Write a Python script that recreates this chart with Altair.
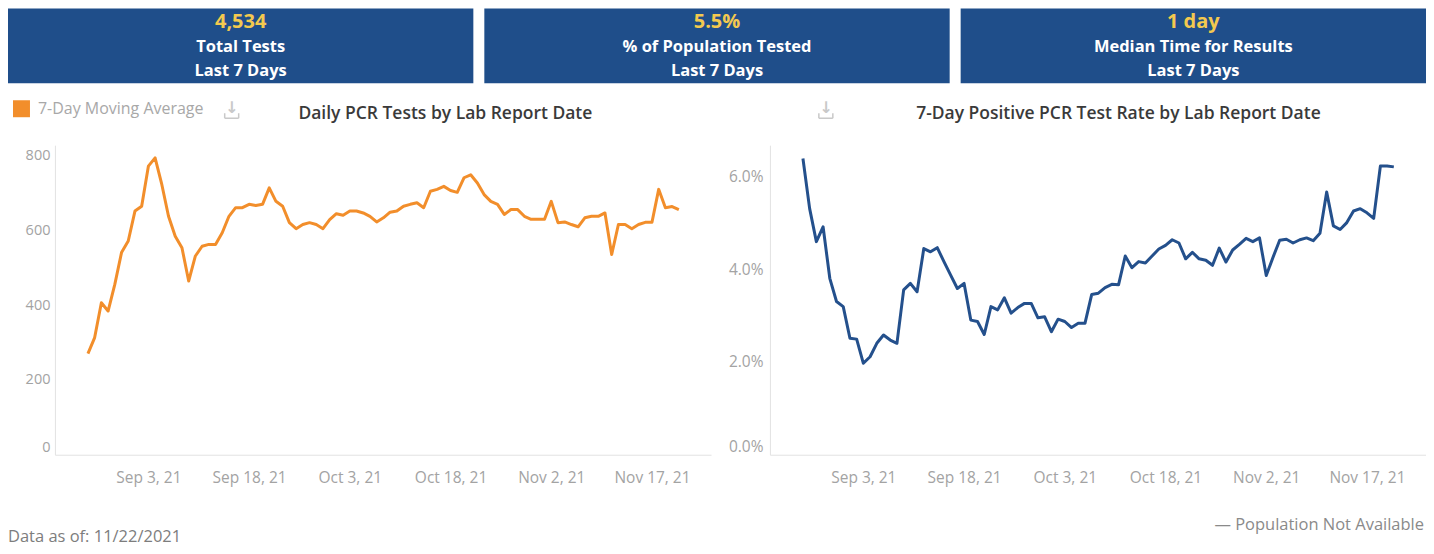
import altair as alt
import pandas as pd

# ---------------- data ----------------
start_date = "2021-08-25"
n_days = 89
daily_tests_7day = [
    270, 313, 406, 384, 455, 540, 571, 651, 664, 771,
    793, 722, 637, 584, 553, 464, 531, 557, 562, 562,
    593, 637, 660, 660, 669, 666, 669, 713, 677, 664,
    620, 604, 615, 620, 615, 604, 628, 644, 640, 651,
    651, 646, 637, 622, 633, 648, 651, 664, 669, 673,
    660, 704, 709, 717, 706, 701, 740, 748, 726, 695,
    677, 669, 642, 655, 655, 637, 629, 629, 629, 677,
    620, 622, 615, 609, 633, 637, 637, 646, 535, 615,
    615, 604, 615, 621, 621, 709, 660, 663, 655,
]
positive_rate_pct = [
    6.38, 5.30, 4.59, 4.91, 3.80, 3.30, 3.19, 2.51, 2.49, 1.97,
    2.11, 2.40, 2.58, 2.47, 2.40, 3.55, 3.69, 3.51, 4.44, 4.37,
    4.46, 4.16, 3.87, 3.58, 3.69, 2.90, 2.87, 2.59, 3.19, 3.12,
    3.38, 3.05, 3.17, 3.26, 3.26, 2.95, 2.97, 2.65, 2.92, 2.87,
    2.74, 2.83, 2.83, 3.45, 3.48, 3.60, 3.67, 3.66, 4.28, 4.03,
    4.16, 4.13, 4.28, 4.43, 4.51, 4.63, 4.56, 4.22, 4.36, 4.22,
    4.19, 4.08, 4.45, 4.15, 4.41, 4.53, 4.66, 4.59, 4.67, 3.86,
    4.25, 4.62, 4.64, 4.56, 4.63, 4.67, 4.61, 4.77, 5.66, 4.93,
    4.85, 5.00, 5.25, 5.30, 5.21, 5.09, 6.22, 6.22, 6.20,
]
kpi_values = ["4,534", "5.5%", "1 day"]
kpi_labels = ["Total Tests", "% of Population Tested", "Median Time for Results"]
kpi_periods = ["Last 7 Days", "Last 7 Days", "Last 7 Days"]
x_tick_dates = [(2021, 9, 3), (2021, 9, 18), (2021, 10, 3),
                (2021, 10, 18), (2021, 11, 2), (2021, 11, 17)]
tests_ticks = [0, 200, 400, 600, 800]
rate_ticks = [0, 2, 4, 6]
left_title = "Daily PCR Tests by Lab Report Date"
right_title = "7-Day Positive PCR Test Rate by Lab Report Date"
legend_label = "7-Day Moving Average"
data_note = "Data as of: 11/22/2021"
pop_note = "— Population Not Available"

dates = pd.date_range(start_date, periods=n_days, freq="D")
df_tests = pd.DataFrame({"date": dates, "tests": daily_tests_7day})
df_rate = pd.DataFrame({"date": dates, "rate": positive_rate_pct})

# ---------------- style / layout ----------------
FONT = "Open Sans"
W, H, GAP = 657, 310, 59
ORANGE = "#f28e2b"
NAVY_LINE = "#24508c"
BANNER = "#1f4e8a"
GOLD = "#f3c94f"
LABEL_GRAY = "#a3a3a3"
AXIS_GRAY = "#e2e2e2"
TITLE_COLOR = "#3a3a3a"
ICON_GRAY = "#c9c9c9"

one = pd.DataFrame({"k": [0]})

x_dom = [alt.DateTime(year=2021, month=8, date=20, hours=2),
         alt.DateTime(year=2021, month=11, date=25, hours=19)]
x_vals = [alt.DateTime(year=y, month=m, date=d) for (y, m, d) in x_tick_dates]


def x_axis():
    return alt.Axis(values=x_vals, format="%b %-d, %y", title=None, ticks=False,
                    grid=False, domainColor=AXIS_GRAY, labelColor=LABEL_GRAY,
                    labelFontSize=15.5, labelPadding=16, labelFlush=False)


def txt(x, y, s, size, color, weight="normal", align="left", font=FONT):
    return alt.Chart(one).mark_text(text=s, fontSize=size, color=color, fontWeight=weight,
                                    align=align, baseline="middle", font=font).encode(
        x=alt.value(x), y=alt.value(y))


def rect(x1, x2, y1, y2, color):
    return alt.Chart(one).mark_rect(color=color).encode(
        x=alt.value(x1), x2=alt.value(x2), y=alt.value(y1), y2=alt.value(y2))


def hrule(x1, x2, y, color, w=1.5):
    return alt.Chart(one).mark_rule(color=color, strokeWidth=w).encode(
        x=alt.value(x1), x2=alt.value(x2), y=alt.value(y))


def vrule(x, y1, y2, color, w=1.5):
    return alt.Chart(one).mark_rule(color=color, strokeWidth=w).encode(
        x=alt.value(x), y=alt.value(y1), y2=alt.value(y2))


def download_icon(cx, cy):
    return [
        txt(cx, cy - 3, "↓", 16, ICON_GRAY, "bold", "center", "DejaVu Sans"),
        hrule(cx - 7, cx + 7, cy + 7, ICON_GRAY),
        vrule(cx - 7, cy + 2, cy + 7, ICON_GRAY),
        vrule(cx + 7, cy + 2, cy + 7, ICON_GRAY),
    ]


# ---------------- left chart ----------------
left_line = alt.Chart(df_tests).mark_line(color=ORANGE, strokeWidth=3, strokeJoin="round").encode(
    x=alt.X("date:T", scale=alt.Scale(domain=x_dom), axis=x_axis()),
    y=alt.Y("tests:Q", scale=alt.Scale(domain=[0, 827], nice=False),
            axis=alt.Axis(values=tests_ticks, format="d", title=None, ticks=False, grid=False,
                          domainColor=AXIS_GRAY, labelColor=LABEL_GRAY, labelFontSize=14.5,
                          labelPadding=5, labelFlush=True, labelFlushOffset=0)),
)

# banner boxes (in left-view coordinates: view origin at page (55,145))
banner_layers = []
bx0, bw, bgap = -47, 466, 11
for i in range(3):
    x1 = bx0 + i * (bw + bgap)
    cx = x1 + bw / 2
    banner_layers += [
        rect(x1, x1 + bw, -137, -62, BANNER),
        txt(cx, -123, kpi_values[i], 20, GOLD, "bold", "center"),
        txt(cx, -98, kpi_labels[i], 16.5, "white", "bold", "center"),
        txt(cx, -74, kpi_periods[i], 16.5, "white", "bold", "center"),
    ]

left_decor = banner_layers + [
    rect(-42, -25, -45, -28, ORANGE),
    txt(-17, -36, legend_label, 16, "#a8a8a8"),
    *download_icon(177, -34),
    txt(391, -31, left_title, 17.5, TITLE_COLOR, 600, "center"),
    txt(-47, 392, data_note, 16.5, "#7d7d7d"),
]

left = alt.layer(left_line, *left_decor).properties(width=W, height=H)

# ---------------- right chart ----------------
right_line = alt.Chart(df_rate).mark_line(color=NAVY_LINE, strokeWidth=3, strokeJoin="round").encode(
    x=alt.X("date:T", scale=alt.Scale(domain=x_dom), axis=x_axis()),
    y=alt.Y("rate:Q", scale=alt.Scale(domain=[0, 6.667], nice=False),
            axis=alt.Axis(values=rate_ticks, title=None, ticks=False, grid=False,
                          labelExpr="format(datum.value, '.1f') + '%'",
                          domainColor=AXIS_GRAY, labelColor=LABEL_GRAY, labelFontSize=15.5,
                          labelPadding=7, labelFlush=True, labelFlushOffset=0)),
)

right_decor = [
    *download_icon(56, -34),
    txt(349, -31, right_title, 17.5, TITLE_COLOR, 600, "center"),
    txt(655, 380, pop_note, 16.5, "#8a8a8a", "normal", "right"),
]

right = alt.layer(right_line, *right_decor).properties(width=W, height=H)

chart = alt.hconcat(left, right, spacing=GAP, bounds="flush").properties(
    padding=0
).configure_view(strokeWidth=0).configure_axis(labelFont=FONT)

chart.save("out.html", embed_options={"renderer": "svg", "actions": False})
